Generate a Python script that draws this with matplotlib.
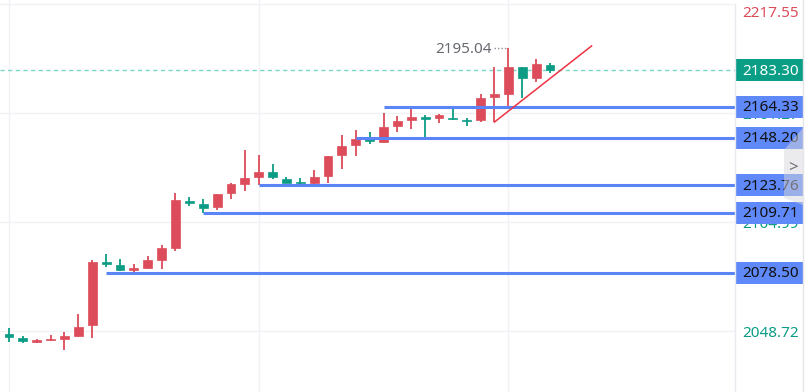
import matplotlib
matplotlib.use("Agg")
import matplotlib.pyplot as plt
import matplotlib.transforms as mtransforms
from matplotlib.patches import Rectangle, Polygon

plt.rcParams['font.family'] = ['Noto Sans', 'DejaVu Sans']

# candles (red = up, green = down)
opens  = [2046.96, 2044.89, 2042.82, 2043.85, 2044.37, 2045.92, 2051.61, 2084.19, 2082.63, 2080.05,
          2081.08, 2085.22, 2091.42, 2115.73, 2114.17, 2112.62, 2119.86, 2124.52, 2128.14, 2130.72,
          2127.10, 2125.55, 2125.03, 2128.65, 2139.51, 2144.68, 2147.78, 2146.23, 2154.51, 2157.61,
          2159.16, 2158.64, 2158.64, 2157.61, 2157.61, 2169.50, 2171.05, 2185.01, 2179.33, 2186.05]
highs  = [2050.06, 2045.92, 2044.37, 2046.44, 2047.99, 2057.30, 2085.22, 2088.32, 2085.74, 2083.15,
          2087.29, 2092.98, 2119.86, 2117.79, 2116.76, 2119.35, 2125.03, 2142.10, 2139.51, 2134.86,
          2128.14, 2127.62, 2131.76, 2138.99, 2149.85, 2152.44, 2151.40, 2161.23, 2159.68, 2164.33,
          2160.19, 2160.71, 2163.30, 2158.64, 2171.05, 2185.01, 2195.04, 2185.01, 2189.15, 2187.08]
lows   = [2042.82, 2042.30, 2042.30, 2043.34, 2038.68, 2045.60, 2044.89, 2081.60, 2079.53, 2079.01,
          2080.57, 2080.57, 2089.87, 2113.14, 2109.71, 2111.07, 2116.76, 2120.90, 2123.76, 2127.10,
          2124.80, 2122.96, 2124.52, 2125.03, 2132.27, 2138.99, 2145.20, 2145.72, 2151.40, 2152.95,
          2147.78, 2156.06, 2157.61, 2154.51, 2156.57, 2156.57, 2163.81, 2168.98, 2177.26, 2181.91]
closes = [2045.41, 2043.34, 2043.85, 2044.37, 2045.92, 2050.58, 2084.19, 2083.15, 2080.05, 2081.08,
          2085.22, 2091.42, 2116.24, 2114.69, 2112.11, 2119.35, 2124.52, 2127.62, 2130.72, 2128.14,
          2125.03, 2125.03, 2128.14, 2138.99, 2144.16, 2147.78, 2146.75, 2153.99, 2157.09, 2159.16,
          2158.13, 2160.19, 2158.13, 2157.09, 2168.98, 2171.05, 2185.01, 2179.33, 2186.56, 2183.30]

# horizontal levels and the candle where each starts
levels = [2164.33, 2148.20, 2123.76, 2109.71, 2078.50]
level_start = [27, 25, 18, 14, 7]

# price scale ticks
ticks = [2048.72, 2104.99, 2161.27, 2217.55]
last_price = 2183.30
high_mark = 2195.04
high_idx = 36

# trend line (index, price)
trend_x = [35, 42]
trend_y = [2156.57, 2195.9]

up = '#dc4c5a'
down = '#0c9c85'
blue = '#5b84f7'

W, H = 807, 392
fig = plt.figure(figsize=(W / 100, H / 100), dpi=100)
ax = fig.add_axes([0, 0, 735 / W, 1])
ax.set_xlim(-0.65, 52.34)
ax.set_ylim(2016.97, 2219.66)
for s in ax.spines.values():
    s.set_visible(False)
ax.set_xticks([])
ax.set_yticks([])

# grid
for t in ticks:
    ax.axhline(t, color='#f1f2f5', lw=1, zorder=0)
for gx in [0, 18, 36]:
    ax.axvline(gx, color='#f1f2f5', lw=1, zorder=0)

# candles
for i in range(len(opens)):
    o, h, l, c = opens[i], highs[i], lows[i], closes[i]
    col = up if c >= o else down
    ax.plot([i, i], [l, h], color=col, lw=1.3, solid_capstyle='butt', zorder=3)
    bot = min(o, c)
    hgt = max(abs(c - o), 0.6)
    ax.add_patch(Rectangle((i - 0.32, bot), 0.64, hgt, facecolor=col, edgecolor=col,
                           lw=0.5, zorder=4))

# last price dashed line
ax.axhline(last_price, color='#7ad6c2', lw=1, ls=(0, (3, 2.5)), zorder=2)

# levels
for lv, st in zip(levels, level_start):
    ax.plot([st, 52.34], [lv, lv], color=blue, lw=2.2, zorder=5, solid_capstyle='butt')

# trend line
ax.plot(trend_x, trend_y, color='#ee3344', lw=1.1, zorder=6)

# high marker
ax.text(high_idx - 1.2, high_mark - 1.0, f'{high_mark:.2f}', color='#666a70', fontsize=11,
        ha='right', va='center', zorder=6)
ax.plot([high_idx - 1.0, high_idx - 0.15], [high_mark, high_mark], color='#8a8e94',
        lw=1, ls=(0, (1, 1.5)), zorder=6)

# price scale
tr = mtransforms.blended_transform_factory(ax.transAxes, ax.transData)
ymax = ax.get_ylim()[1]
for t in ticks:
    ty = min(t - 1.3, ymax - 7.2)
    col = up if t == ticks[-1] else down
    ax.text(1.0095, ty, f'{t:.2f}', transform=tr, color=col, fontsize=11,
            ha='left', va='center', clip_on=False, zorder=7)

box_h = 11.4
ax.add_patch(Rectangle((1.0, last_price - box_h / 2), 68 / 735, box_h, transform=tr,
                       facecolor='#0a9e86', edgecolor='none', clip_on=False, zorder=8))
ax.text(1.0095, last_price - 0.4, f'{last_price:.2f}', transform=tr, color='white', fontsize=11,
        ha='left', va='center', clip_on=False, zorder=9)
for lv in levels:
    ax.add_patch(Rectangle((1.0, lv - box_h / 2), 68 / 735, box_h, transform=tr,
                           facecolor='#5f88f8', edgecolor='none', clip_on=False, zorder=8))
    ax.text(1.0095, lv - 0.4, f'{lv:.2f}', transform=tr, color='#111111', fontsize=11,
            ha='left', va='center', clip_on=False, zorder=9)

# scale borders
fig.add_artist(plt.Line2D([735 / W, 735 / W], [0, 1 - 4 / H], transform=fig.transFigure,
                          color='#e8eaef', lw=1))
fig.add_artist(plt.Line2D([803 / W, 803 / W], [0, 1], transform=fig.transFigure,
                          color='#e4e4e8', lw=1))

# collapse tab
tab = Polygon([(784 / W, 1 - 150 / H), (803 / W, 1 - 128 / H), (803 / W, 1 - 205 / H),
               (784 / W, 1 - 198 / H)], closed=True, transform=fig.transFigure,
              facecolor='#d8d8dc', alpha=0.5, edgecolor='none')
fig.add_artist(tab)
fig.text(793 / W, 1 - 168 / H, '>', color='#6b6e75', fontsize=12, ha='center', va='center')

fig.savefig('out.png', dpi=100)
